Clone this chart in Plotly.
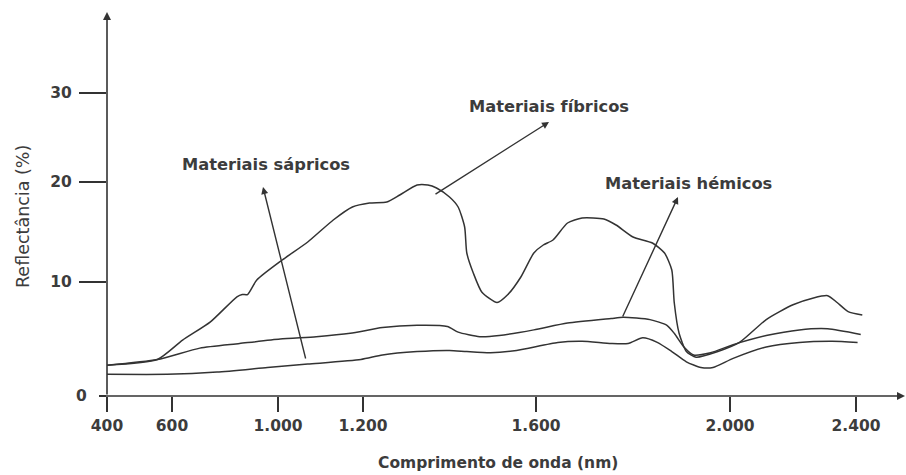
import numpy as np
import plotly.graph_objects as go

# ---- axis calibration: the drawn figure uses non-uniform scales ----
X_TICKS_NM = [400, 600, 1000, 1200, 1600, 2000, 2400]
X_TICK_LABELS = ["400", "600", "1.000", "1.200", "1.600", "2.000", "2.400"]
X_TICK_AT = [107, 172, 278, 363, 536, 730, 856]
Y_TICKS_PCT = [0, 10, 20, 30]
Y_TICK_LABELS = ["0", "10", "20", "30"]
Y_TICK_AT = [396, 282, 182, 93]

# ---- data (wavelength nm, reflectance %) ----
wl_fibricos = [400, 555, 640, 745, 845, 865, 885, 920, 1010, 1070, 1130, 1175, 1215, 1255, 1285,
               1325, 1350, 1370, 1400, 1420, 1435, 1440, 1455, 1475, 1510, 1535, 1565, 1595,
               1615, 1635, 1665, 1695, 1740, 1765, 1800, 1840, 1865, 1880, 1885, 1895, 1910,
               1930, 1975, 2030, 2115, 2200, 2265, 2310, 2340, 2375, 2420]
refl_fibricos = [2.7, 3.2, 4.9, 6.5, 8.7, 8.9, 8.9, 10.2, 12.2, 14.0, 16.2, 17.5, 17.9, 18.0, 18.7,
                 19.7, 19.7, 19.4, 18.5, 17.5, 15.5, 12.9, 10.9, 9.1, 8.2, 8.9, 10.5, 12.9,
                 13.7, 14.2, 15.9, 16.4, 16.3, 15.7, 14.5, 13.9, 12.9, 11.2, 8.2, 5.5, 3.9,
                 3.4, 3.9, 4.7, 6.7, 8.0, 8.6, 8.8, 8.2, 7.4, 7.1]

wl_hemicos = [400, 555, 705, 855, 1005, 1090, 1170, 1245, 1325, 1395, 1420, 1470, 1515, 1595,
              1665, 1755, 1780, 1835, 1870, 1885, 1905, 1925, 1960, 2010, 2115, 2220, 2310, 2415]
refl_hemicos = [2.7, 3.2, 4.2, 4.6, 5.0, 5.2, 5.5, 6.0, 6.2, 6.1, 5.6, 5.2, 5.3, 5.8,
                6.4, 6.8, 6.9, 6.7, 6.2, 5.5, 4.3, 3.6, 3.8, 4.5, 5.3, 5.8, 5.9, 5.4]

wl_sapricos = [400, 585, 770, 960, 1070, 1195, 1245, 1325, 1400, 1440, 1495, 1555, 1645, 1695,
               1755, 1790, 1820, 1850, 1880, 1910, 1940, 1965, 2010, 2115, 2220, 2325, 2405]
refl_sapricos = [1.9, 1.9, 2.1, 2.5, 2.8, 3.2, 3.6, 3.9, 4.0, 3.9, 3.8, 4.0, 4.7, 4.8,
                 4.6, 4.6, 5.1, 4.7, 3.9, 3.0, 2.5, 2.5, 3.3, 4.3, 4.7, 4.8, 4.7]


def calib(v, ticks, pos):
    v = np.asarray(v, dtype=float)
    out = np.interp(v, ticks, pos)
    hi = v > ticks[-1]
    out[hi] = pos[-1] + (v[hi] - ticks[-1]) * (pos[-1] - pos[-2]) / (ticks[-1] - ticks[-2])
    lo = v < ticks[0]
    out[lo] = pos[0] + (v[lo] - ticks[0]) * (pos[1] - pos[0]) / (ticks[1] - ticks[0])
    return out


INK = "#333333"
TXT = "#3c3c3c"
BOLD = dict(family="DejaVu Sans", size=15.5, color=TXT, weight="bold")

X0, X1 = 107, 905   # plot-area extent in axis units (1 unit = 1 px)
Y0, Y1 = 396, 13


def px(x):
    return (x - X0) / (X1 - X0)


def py(y):
    return (Y0 - y) / (Y0 - Y1)


fig = go.Figure()
for wl, rf in [(wl_fibricos, refl_fibricos), (wl_hemicos, refl_hemicos), (wl_sapricos, refl_sapricos)]:
    fig.add_trace(go.Scatter(
        x=calib(wl, X_TICKS_NM, X_TICK_AT),
        y=calib(rf, Y_TICKS_PCT, Y_TICK_AT),
        mode="lines",
        line=dict(color=INK, width=1.5, shape="spline", smoothing=0.6),
        showlegend=False, hoverinfo="skip",
    ))

# invisible anchor trace for the secondary y axis carrying the "0" label
fig.add_trace(go.Scatter(x=[X_TICK_AT[0]], y=[Y_TICK_AT[0]], yaxis="y2", mode="markers",
                         marker=dict(opacity=0), showlegend=False, hoverinfo="skip"))

fig.update_layout(
    width=906, height=475,
    margin=dict(l=107, r=1, t=13, b=79),
    paper_bgcolor="white", plot_bgcolor="white",
    xaxis=dict(range=[X0, X1], tickvals=X_TICK_AT, ticktext=X_TICK_LABELS,
               ticks="outside", ticklen=15, tickwidth=1.5, tickcolor=INK,
               showgrid=False, zeroline=False, showline=False,
               tickfont=BOLD, ticklabelstandoff=0),
    yaxis=dict(range=[Y0, Y1], tickvals=Y_TICK_AT[1:], ticktext=Y_TICK_LABELS[1:],
               ticks="outside", ticklen=27, tickwidth=1.5, tickcolor=INK,
               showgrid=False, zeroline=False, showline=False,
               tickfont=BOLD, ticklabelstandoff=4),
    yaxis2=dict(range=[Y0, Y1], overlaying="y", side="left", anchor="x",
                tickvals=[Y_TICK_AT[0]], ticktext=[Y_TICK_LABELS[0]],
                ticks="outside", ticklen=7, tickwidth=1.5, tickcolor=INK,
                showgrid=False, zeroline=False, showline=False,
                tickfont=BOLD, ticklabelstandoff=9),
)

ann = []
# axes drawn as arrows (tail offsets in pixels)
ann.append(dict(x=1.0, y=0, xref="paper", yref="paper", ax=-(X1 - 100), ay=0,
                axref="pixel", ayref="pixel", showarrow=True, arrowhead=2, arrowsize=1,
                arrowwidth=1.6, arrowcolor=INK, standoff=0, text=""))
ann.append(dict(x=0, y=py(12), xref="paper", yref="paper", ax=0, ay=Y0 - 12,
                axref="pixel", ayref="pixel", showarrow=True, arrowhead=2, arrowsize=1,
                arrowwidth=1.6, arrowcolor=INK, standoff=0, text=""))
# label pointers
for head, tail in [((263, 187), (306, 360)), ((549, 122), (434, 195)), ((678, 197), (622, 318))]:
    ann.append(dict(x=head[0], y=head[1], ax=tail[0], ay=tail[1], xref="x", yref="y",
                    axref="x", ayref="y", showarrow=True, arrowhead=2, arrowsize=1,
                    arrowwidth=1.4, arrowcolor=INK, standoff=0, text=""))
# labels
for txt, (x, y) in [("Materiais sápricos", (266, 164)), ("Materiais fíbricos", (549, 106)),
                    ("Materiais hémicos", (688, 183))]:
    ann.append(dict(x=x, y=y, xref="x", yref="y", text=txt, showarrow=False,
                    xanchor="center", yanchor="middle",
                    font=dict(family="DejaVu Sans", size=16.3, color=TXT, weight="bold")))
# axis titles
ann.append(dict(x=px(498), y=py(463), xref="paper", yref="paper",
                text="Comprimento de onda (nm)", showarrow=False,
                xanchor="center", yanchor="middle", font=BOLD))
ann.append(dict(x=px(23), y=py(217), xref="paper", yref="paper", text="Reflectância (%)",
                showarrow=False, textangle=-90, xanchor="center", yanchor="middle",
                font=dict(family="DejaVu Sans", size=17.5, color=TXT)))
fig.update_layout(annotations=ann)

fig.write_html("out.html")
